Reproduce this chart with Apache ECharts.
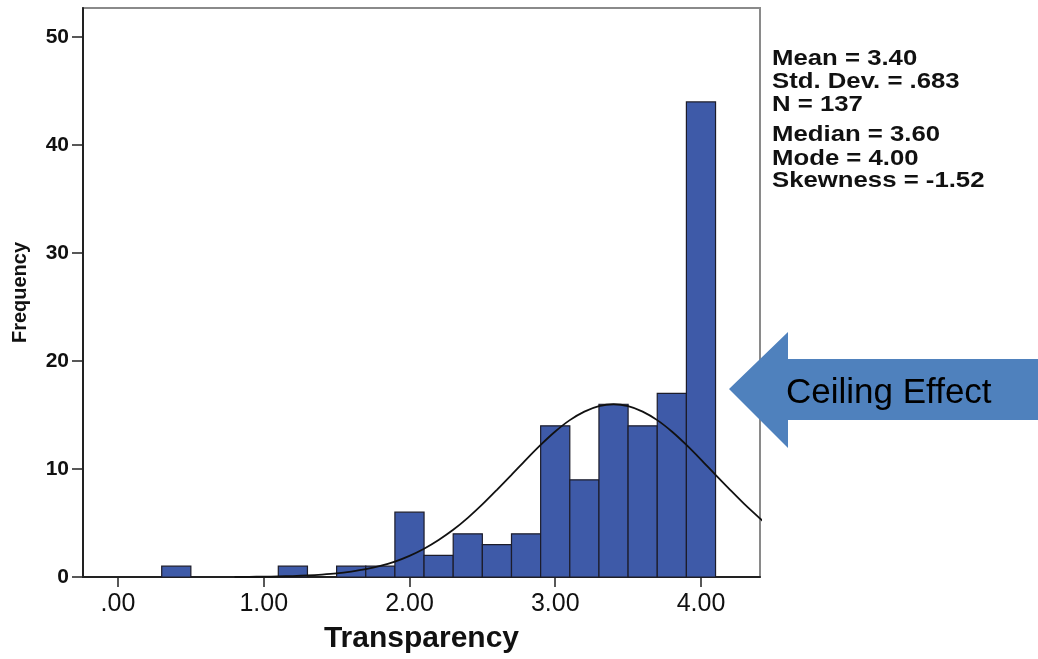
<!DOCTYPE html>
<html>
<head>
<meta charset="utf-8">
<title>Transparency histogram</title>
<script src="https://cdn.jsdelivr.net/npm/echarts@6/dist/echarts.min.js"></script>
<style>
  html, body { margin: 0; padding: 0; background: #fff; }
  #chart { width: 1038px; height: 659px; }
</style>
</head>
<body>
<div id="chart"></div>
<script>
// Histogram bins: centre of each bin and its frequency (bin width 0.2)
const binCenters = [0.4, 1.2, 1.6, 1.8, 2.0, 2.2, 2.4, 2.6, 2.8, 3.0, 3.2, 3.4, 3.6, 3.8, 4.0];
const binCounts  = [1,   1,   1,   1,   6,   2,   4,   3,   4,   14,  9,   16,  14,  17,  44];
const binWidth = 0.2;

// Fitted normal curve, expected frequency per bin
const curveX = [0.8, 0.9, 1.0, 1.1, 1.2, 1.3, 1.4, 1.5, 1.6, 1.7, 1.8, 1.9, 2.0, 2.1, 2.2, 2.3, 2.4, 2.5, 2.6, 2.7,
                2.8, 2.9, 3.0, 3.1, 3.2, 3.3, 3.4, 3.5, 3.6, 3.7, 3.8, 3.9, 4.0, 4.1, 4.2, 4.3, 4.4, 4.45];
const curveY = [0.01, 0.02, 0.03, 0.06, 0.09, 0.14, 0.22, 0.33, 0.50, 0.72, 1.03, 1.43, 1.96, 2.62, 3.43, 4.37, 5.48, 6.72, 8.07, 9.46,
                10.88, 12.24, 13.48, 14.53, 15.32, 15.83, 16.0, 15.83, 15.32, 14.53, 13.48, 12.24, 10.88, 9.46, 8.07, 6.72, 5.48, 4.9];

// Axis ticks
const xTicks = [0, 1, 2, 3, 4];
const xTickLabels = ['.00', '1.00', '2.00', '3.00', '4.00'];
const yTicks = [0, 10, 20, 30, 40, 50];

// Summary statistics shown beside the plot
const statsTop = ['Mean = 3.40', 'Std. Dev. = .683', 'N = 137'];
const statsBottom = ['Median = 3.60', 'Mode = 4.00', 'Skewness = -1.52'];
const calloutText = 'Ceiling Effect';

const FONT = '"Liberation Sans", Arial, sans-serif';
const chart = echarts.init(document.getElementById('chart'), null, { renderer: 'canvas' });

const statLines = [];
const statCenters = [58.5, 81.8, 105.2, 135.2, 158.5, 180.8];
statsTop.concat(statsBottom).forEach((t, i) => {
  statLines.push({
    type: 'text',
    x: 772, y: statCenters[i],
    scaleX: 1.17,
    z: 10,
    style: {
      text: t,
      font: 'bold 22px ' + FONT,
      fill: '#111',
      textAlign: 'left',
      textVerticalAlign: 'middle'
    }
  });
});

const option = {
  backgroundColor: '#fff',
  animation: false,
  grid: {
    left: 83, right: 278, top: 8, bottom: 82,
    show: true,
    borderColor: '#8a8a8a',
    borderWidth: 2,
    backgroundColor: 'transparent'
  },
  xAxis: {
    type: 'value',
    min: -0.24,
    max: 4.405,
    name: 'Transparency',
    nameLocation: 'middle',
    nameGap: 47,
    nameTextStyle: { fontFamily: FONT, fontSize: 30, fontWeight: 'bold', color: '#111' },
    axisLine: { onZero: false, lineStyle: { color: '#222', width: 2 } },
    axisTick: { show: true, customValues: xTicks, length: 10, lineStyle: { color: '#222', width: 1.5 } },
    axisLabel: {
      customValues: xTicks,
      margin: 15,
      fontFamily: FONT,
      fontSize: 25,
      color: '#111',
      formatter: v => xTickLabels[xTicks.indexOf(Math.round(v))] || ''
    },
    splitLine: { show: false }
  },
  yAxis: {
    type: 'value',
    min: 0,
    max: 52.7,
    name: 'Frequency',
    nameLocation: 'middle',
    nameRotate: 90,
    nameGap: 53,
    nameTextStyle: { fontFamily: FONT, fontSize: 20, fontWeight: 'bold', color: '#111' },
    axisLine: { show: true, onZero: false, lineStyle: { color: '#222', width: 2 } },
    axisTick: { show: true, customValues: yTicks, length: 11, lineStyle: { color: '#222', width: 1.5 } },
    axisLabel: {
      customValues: yTicks,
      margin: 14,
      fontFamily: FONT,
      fontSize: 21,
      fontWeight: 'bold',
      color: '#111'
    },
    splitLine: { show: false }
  },
  series: [
    {
      type: 'custom',
      name: 'Frequency',
      data: binCenters.map((c, i) => [c, binCounts[i]]),
      renderItem: function (params, api) {
        const c = api.value(0);
        const n = api.value(1);
        const p0 = api.coord([c - binWidth / 2, n]);
        const p1 = api.coord([c + binWidth / 2, 0]);
        return {
          type: 'rect',
          shape: { x: p0[0], y: p0[1], width: p1[0] - p0[0], height: p1[1] - p0[1] },
          style: { fill: '#3E5AA8', stroke: '#1c1c2a', lineWidth: 1.2 }
        };
      },
      z: 2
    },
    {
      type: 'line',
      name: 'Normal',
      data: curveX.map((x, i) => [x, curveY[i]]),
      smooth: 0.3,
      symbol: 'none',
      clip: true,
      lineStyle: { color: '#111', width: 1.8 },
      z: 3
    }
  ],
  graphic: statLines.concat([
    {
      type: 'polygon',
      z: 20,
      shape: { points: [[729, 389], [788, 332], [788, 359], [1038, 359], [1038, 420], [788, 420], [788, 448]] },
      style: { fill: '#4F81BD' }
    },
    {
      type: 'text',
      z: 21,
      x: 786, y: 393,
      style: {
        text: calloutText,
        font: '35px ' + FONT,
        fill: '#000',
        textAlign: 'left',
        textVerticalAlign: 'middle'
      }
    }
  ])
};

chart.setOption(option);
</script>
</body>
</html>
